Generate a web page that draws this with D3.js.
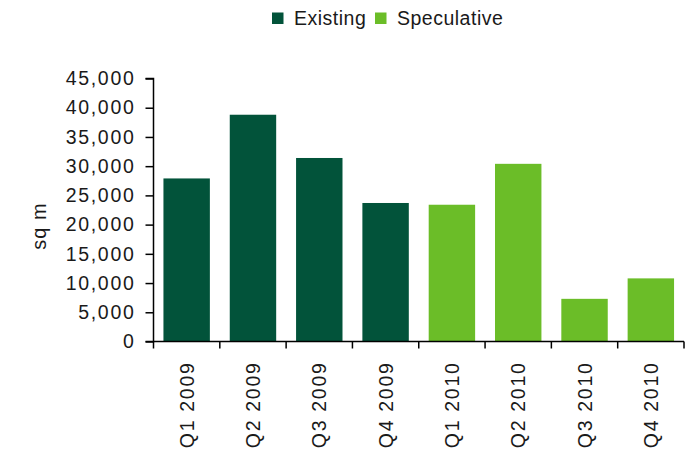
<!DOCTYPE html>
<html><head><meta charset="utf-8">
<script src="https://cdn.jsdelivr.net/npm/d3@7"></script>
<style>body{margin:0;background:#fff}svg{display:block}text{font-family:"Liberation Sans",Arial,sans-serif;fill:#1a1a1a}</style>
</head><body>
<script>
const categories = ["Q1 2009","Q2 2009","Q3 2009","Q4 2009","Q1 2010","Q2 2010","Q3 2010","Q4 2010"];
const seriesNames = ["Existing","Speculative"];
const seriesOf = ["Existing","Existing","Existing","Existing","Speculative","Speculative","Speculative","Speculative"];
const values = [27900,38800,31400,23700,23400,30400,7300,10800];
const yTicks = [0,5000,10000,15000,20000,25000,30000,35000,40000,45000];
const colors = {"Existing":"#02533a","Speculative":"#6bbd28"};

(function(){
const W=691,H=459;
const svg=d3.select("body").append("svg").attr("width",W).attr("height",H);
const pl=153.5,pr=684,pt=78.5,pb=341.5;
const x=d3.scaleBand().domain(categories).range([pl,pr]).paddingInner(0.3).paddingOuter(0.15);
const y=d3.scaleLinear().domain([0,45000]).range([pb,pt]);

svg.selectAll("rect.bar").data(values).enter().append("rect")
  .attr("x",(d,i)=>x(categories[i])).attr("width",x.bandwidth())
  .attr("y",d=>y(d)).attr("height",d=>y(0)-y(d))
  .attr("fill",(d,i)=>colors[seriesOf[i]]);

const ya=svg.append("g").attr("transform",`translate(${pl},0)`)
  .call(d3.axisLeft(y).tickValues(yTicks).tickFormat(d3.format(",")).tickSize(8).tickPadding(10));
ya.select(".domain").attr("stroke","#000").attr("stroke-width",1.5).attr("d",`M-8,${pt}H0V${pb}H-8`);
ya.selectAll(".tick line").attr("stroke","#000").attr("stroke-width",1.5);
ya.selectAll("text").style("font-size","19.5px").style("letter-spacing","1.7px").attr("fill","#1a1a1a");

const xg=svg.append("g");
xg.append("line").attr("x1",pl).attr("x2",pr).attr("y1",pb).attr("y2",pb).attr("stroke","#000").attr("stroke-width",1.5);
const step=x.step();
const bounds=d3.range(categories.length+1).map(i=> i===0?pl:(i===categories.length?pr:x(categories[i])-x.paddingInner()*step/2));
xg.selectAll("line.t").data(bounds).enter().append("line")
  .attr("x1",d=>d).attr("x2",d=>d).attr("y1",pb).attr("y2",pb+7).attr("stroke","#000").attr("stroke-width",1.5);
xg.selectAll("text").data(categories).enter().append("text")
  .attr("transform",d=>`translate(${x(d)+x.bandwidth()/2+7},${pb+20}) rotate(-90)`)
  .attr("text-anchor","end").style("font-size","19.5px").style("letter-spacing","1.7px").text(d=>d);

svg.append("text").attr("transform",`translate(46,${226}) rotate(-90)`)
  .attr("text-anchor","middle").style("font-size","20px").style("letter-spacing","1px").text("sq m");

const leg=svg.append("g");
const lx=[272,375];
seriesNames.forEach((s,i)=>{
  leg.append("rect").attr("x",lx[i]).attr("y",12.5).attr("width",11.5).attr("height",11.5).attr("fill",colors[s]);
  leg.append("text").attr("x",lx[i]+22).attr("y",24.7).style("font-size","19.5px").style("letter-spacing","0.5px").text(s);
});
})();
</script>
</body></html>
